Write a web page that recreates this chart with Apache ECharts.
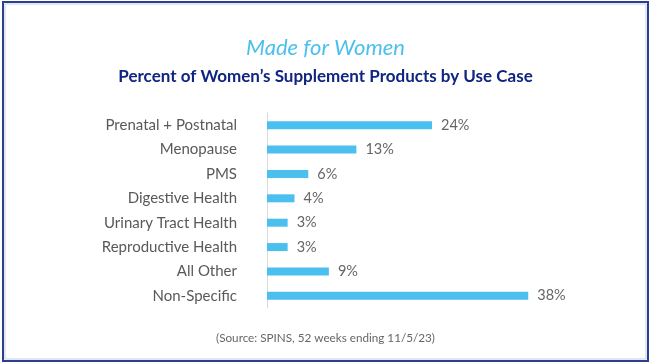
<!DOCTYPE html>
<html><head><meta charset="utf-8">
<script src="https://cdn.jsdelivr.net/npm/echarts@6/dist/echarts.min.js"></script>
<style>html,body{margin:0;padding:0;background:#fff}#c{width:651px;height:364px}</style>
</head><body><div id="c"></div>
<script>
const categories = ["Prenatal + Postnatal","Menopause","PMS","Digestive Health","Urinary Tract Health","Reproductive Health","All Other","Non-Specific"];
const values = [24,13,6,4,3,3,9,38];
const titleText = "Made for Women";
const subtitleText = "Percent of Women\u2019s Supplement Products by Use Case";
const sourceText = "(Source: SPINS, 52 weeks ending 11/5/23)";

const chart = echarts.init(document.getElementById('c'), null, {renderer:'canvas'});
chart.setOption({
  animation:false,
  textStyle:{fontFamily:'Lato'},
  title:[
    {text:titleText,left:'center',top:32,textStyle:{fontFamily:'Lato',fontStyle:'italic',fontWeight:'normal',fontSize:22,color:'#4cc0ec'}},
    {text:subtitleText,left:'center',top:63,textStyle:{fontFamily:'Lato',fontWeight:'bold',fontSize:17,color:'#0f2580'}},
    {text:sourceText,left:'center',top:327,textStyle:{fontFamily:'Lato',fontWeight:'normal',fontSize:11.7,color:'#666666'}}
  ],
  graphic:[
    {type:'rect',shape:{x:3,y:2,width:645,height:359},style:{fill:'none',stroke:'#2a3f8f',lineWidth:2}},
    {type:'rect',shape:{x:5,y:4,width:641,height:355},style:{fill:'none',stroke:'#c5cde6',lineWidth:1}}
  ],
  grid:{left:267,right:109,top:113,bottom:56},
  xAxis:{type:'value',min:0,max:40,show:false},
  yAxis:{type:'category',data:categories,inverse:true,
    axisLine:{show:true,lineStyle:{color:'#d9d9d9',width:1}},
    axisTick:{show:false},
    axisLabel:{margin:30,fontFamily:'Lato',fontSize:15,color:'#595959'}},
  series:[{type:'bar',data:values,barWidth:8,
    itemStyle:{color:'#4bbfed'},
    label:{show:true,position:'right',distance:9,formatter:'{c}%',fontFamily:'Lato',fontSize:14.5,color:'#666666'}}]
});
</script></body></html>
